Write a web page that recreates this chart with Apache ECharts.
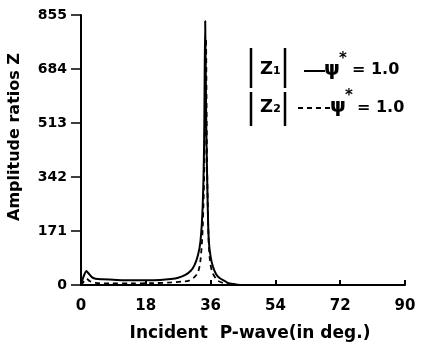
<!DOCTYPE html>
<html>
<head>
<meta charset="utf-8">
<script src="https://cdn.jsdelivr.net/npm/echarts@6/dist/echarts.min.js"></script>
<style>
  html, body { margin: 0; padding: 0; background: #fff; }
  #amp-chart { width: 423px; height: 345px; }
</style>
</head>
<body>
<div id="amp-chart"></div>
<script>
// tick labels
const xTicks = [0, 18, 36, 54, 72, 90]
const yTicks = [0, 171, 342, 513, 684, 855]

// |Z1| (solid) : [angle, ratio]
const z1 = [
  [0, 2], [0.5, 20], [1, 35], [1.5, 44], [2, 38], [3, 25], [4, 20], [6, 18],
  [10, 16], [14, 15], [18, 15], [22, 16], [25, 19], [27, 23], [29, 32],
  [30.5, 45], [31.5, 62], [32.5, 95], [33.2, 140], [33.8, 250], [34.2, 450],
  [34.5, 836], [34.8, 500], [35.2, 250], [35.5, 140], [36, 90], [36.6, 60],
  [37.5, 35], [38.5, 22], [40, 12], [41, 6], [43, 2], [45, 0], [90, 0]
]

// |Z2| (dashed)
const z2 = [
  [0, 0], [0.7, 10], [1.5, 20], [2.5, 12], [4, 7], [8, 5], [14, 5], [20, 6],
  [25, 8], [28, 11], [30, 14], [31.5, 25], [32.5, 40], [33.2, 80], [33.8, 180],
  [34.3, 400], [34.7, 780], [35, 400], [35.4, 160], [35.8, 80], [36.5, 40],
  [38, 14], [40, 5], [42, 1], [45, 0], [90, 0]
]

const font = 'DejaVu Sans'

let myChart = echarts.init(document.getElementById('amp-chart'))
let option = {
  backgroundColor: '#fff',
  animation: false,
  grid: { left: 81, right: 18, top: 15, bottom: 60, containLabel: false, outerBoundsMode: 'none' },
  xAxis: {
    type: 'value',
    min: xTicks[0],
    max: xTicks[xTicks.length - 1],
    interval: 18,
    name: 'Incident  P-wave(in deg.)',
    nameLocation: 'middle',
    nameGap: 40,
    nameTextStyle: { fontFamily: font, fontWeight: 'bold', fontSize: 17, color: '#000', padding: [0, 0, 0, 14] },
    axisLine: { lineStyle: { color: '#000', width: 2 } },
    axisTick: { inside: true, length: 5, lineStyle: { color: '#000', width: 2 } },
    axisLabel: { fontFamily: font, fontWeight: 'bold', fontSize: 15, color: '#000', margin: 14 },
    splitLine: { show: false }
  },
  yAxis: {
    type: 'value',
    min: yTicks[0],
    max: yTicks[yTicks.length - 1],
    interval: 171,
    name: 'Amplitude ratios Z',
    nameLocation: 'middle',
    nameGap: 58,
    nameTextStyle: { fontFamily: font, fontWeight: 'bold', fontSize: 16, color: '#000', padding: [0, 0, 0, 26] },
    axisLine: { show: true, lineStyle: { color: '#000', width: 2 } },
    axisTick: { show: true, length: 10, lineStyle: { color: '#000', width: 1.5 } },
    axisLabel: { fontFamily: font, fontWeight: 'bold', fontSize: 14, color: '#000', margin: 14 },
    splitLine: { show: false }
  },
  series: [
    {
      name: '|Z1|',
      type: 'line',
      data: z1,
      showSymbol: false,
      smooth: 0.3,
      lineStyle: { color: '#000', width: 2 }
    },
    {
      name: '|Z2|',
      type: 'line',
      data: z2,
      showSymbol: false,
      smooth: 0.3,
      lineStyle: { color: '#000', width: 1.8, type: [5, 4] }
    }
  ],
  graphic: [
    { type: 'line', shape: { x1: 251, y1: 48, x2: 251, y2: 88 }, style: { stroke: '#000', lineWidth: 2.5 } },
    { type: 'line', shape: { x1: 285, y1: 48, x2: 285, y2: 88 }, style: { stroke: '#000', lineWidth: 2.5 } },
    { type: 'text', left: 260, top: 60, style: { text: 'Z\u2081', font: 'bold 18px DejaVu Sans', fill: '#000' } },
    { type: 'line', shape: { x1: 304, y1: 71, x2: 325, y2: 71 }, style: { stroke: '#000', lineWidth: 2 } },
    { type: 'text', left: 324, top: 60, style: { text: '\u03c8', font: 'bold 20px DejaVu Sans', fill: '#000' } },
    { type: 'text', left: 339, top: 52, style: { text: '*', font: 'bold 15px DejaVu Sans', fill: '#000' } },
    { type: 'text', left: 352, top: 62, style: { text: '= 1.0', font: 'bold 16px DejaVu Sans', fill: '#000' } },

    { type: 'line', shape: { x1: 251, y1: 92, x2: 251, y2: 126 }, style: { stroke: '#000', lineWidth: 2.5 } },
    { type: 'line', shape: { x1: 285, y1: 92, x2: 285, y2: 126 }, style: { stroke: '#000', lineWidth: 2.5 } },
    { type: 'text', left: 260, top: 98, style: { text: 'Z\u2082', font: 'bold 18px DejaVu Sans', fill: '#000' } },
    { type: 'line', shape: { x1: 298, y1: 108, x2: 331, y2: 108 }, style: { stroke: '#000', lineWidth: 2, lineDash: [5, 4] } },
    { type: 'text', left: 330, top: 97, style: { text: '\u03c8', font: 'bold 20px DejaVu Sans', fill: '#000' } },
    { type: 'text', left: 345, top: 89, style: { text: '*', font: 'bold 15px DejaVu Sans', fill: '#000' } },
    { type: 'text', left: 357, top: 100, style: { text: '= 1.0', font: 'bold 16px DejaVu Sans', fill: '#000' } }
  ]
}
myChart.setOption(option)
</script>
</body>
</html>
